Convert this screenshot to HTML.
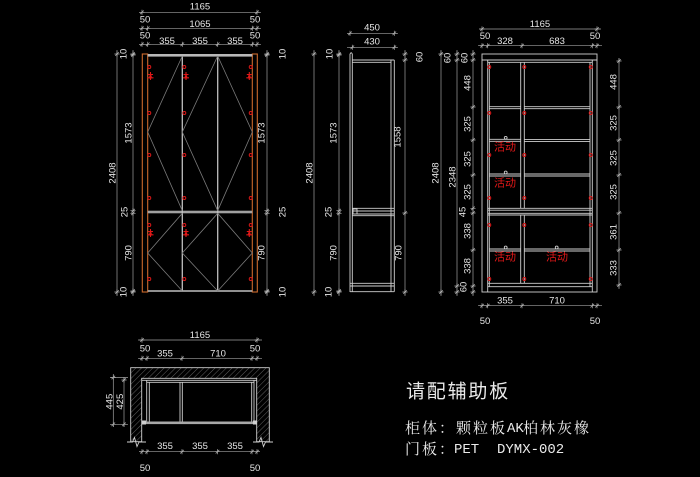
<!DOCTYPE html>
<html><head><meta charset="utf-8"><style>
html,body{margin:0;padding:0;background:#000;width:700px;height:477px;overflow:hidden}
svg{display:block}
.d{stroke:#a0a0a0;stroke-width:0.7;fill:none}
.s{stroke:#d0d0d0;stroke-width:0.9;fill:none}
.g{stroke:#7a7a7a;stroke-width:0.8;fill:none}
.o{stroke:#cc6a2c;stroke-width:1.1;fill:none}
.r{stroke:#e01818;stroke-width:0.9;fill:none}
.t{fill:#e6e6e6;font-family:"Liberation Sans",sans-serif;font-size:9.5px;text-anchor:middle;dominant-baseline:central}
.rt{fill:#e01818;font-family:"Liberation Sans","Noto Sans CJK SC",sans-serif;font-size:11px;text-anchor:middle;dominant-baseline:central}
</style></head><body>
<svg width="700" height="477" viewBox="0 0 700 477" xmlns="http://www.w3.org/2000/svg">
<defs>
<path id="tk" d="M-1.8,1.8 L1.8,-1.8 M-2.6,0 H2.6 M0,-2.6 V2.6" stroke="#b0b0b0" stroke-width="0.7" fill="none"/>
<g id="hg"><path d="M0,-4 V4 M-2.5,-1.5 H2.5 M-3,1.8 H3" stroke="#e01818" stroke-width="1.1" fill="none"/><rect x="-1.2" y="-0.5" width="2.4" height="3" fill="#e01818"/></g>
<pattern id="hat" width="4" height="4" patternUnits="userSpaceOnUse" patternTransform="rotate(45)"><line x1="0" y1="0" x2="0" y2="4" stroke="#8a8a8a" stroke-width="0.7"/></pattern>
</defs>
<rect width="700" height="477" fill="#000"/>

<!-- ============ LEFT ELEVATION ============ -->
<!-- top dims -->
<line class="d" x1="139" y1="12.3" x2="261" y2="12.3"/>
<use href="#tk" x="142" y="12.3"/><use href="#tk" x="257" y="12.3"/>
<text class="t" x="200" y="7">1165</text>
<line class="d" x1="139" y1="28.3" x2="261" y2="28.3"/>
<use href="#tk" x="142" y="28.3"/><use href="#tk" x="147.7" y="28.3"/><use href="#tk" x="252.3" y="28.3"/><use href="#tk" x="257" y="28.3"/>
<text class="t" x="145" y="20">50</text><text class="t" x="200" y="24.5">1065</text><text class="t" x="255" y="20">50</text>
<line class="d" x1="139" y1="44.3" x2="261" y2="44.3"/>
<use href="#tk" x="142" y="44.3"/><use href="#tk" x="147.7" y="44.3"/><use href="#tk" x="182.3" y="44.3"/><use href="#tk" x="217.7" y="44.3"/><use href="#tk" x="252.3" y="44.3"/><use href="#tk" x="257" y="44.3"/>
<text class="t" x="145" y="36">50</text><text class="t" x="167" y="41.5">355</text><text class="t" x="200" y="41.5">355</text><text class="t" x="235" y="41.5">355</text><text class="t" x="255" y="36">50</text>
<!-- left dims -->
<line class="d" x1="117" y1="50" x2="117" y2="296"/>
<use href="#tk" x="117" y="54"/><use href="#tk" x="117" y="292"/>
<line class="d" x1="133" y1="50" x2="133" y2="296"/>
<use href="#tk" x="133" y="54"/><use href="#tk" x="133" y="55"/><use href="#tk" x="133" y="210.7"/><use href="#tk" x="133" y="213.3"/><use href="#tk" x="133" y="291"/><use href="#tk" x="133" y="292"/>
<text class="t" transform="translate(113 173) rotate(-90)">2408</text>
<text class="t" transform="translate(124 54) rotate(-90)">10</text>
<text class="t" transform="translate(129 133) rotate(-90)">1573</text>
<text class="t" transform="translate(125 212) rotate(-90)">25</text>
<text class="t" transform="translate(129 253) rotate(-90)">790</text>
<text class="t" transform="translate(124 292) rotate(-90)">10</text>
<!-- right dims -->
<line class="d" x1="267" y1="50" x2="267" y2="296"/>
<use href="#tk" x="267" y="54"/><use href="#tk" x="267" y="55"/><use href="#tk" x="267" y="210.7"/><use href="#tk" x="267" y="213.3"/><use href="#tk" x="267" y="291"/><use href="#tk" x="267" y="292"/>
<text class="t" transform="translate(283 54) rotate(-90)">10</text>
<text class="t" transform="translate(262 133) rotate(-90)">1573</text>
<text class="t" transform="translate(283 212) rotate(-90)">25</text>
<text class="t" transform="translate(262 253) rotate(-90)">790</text>
<text class="t" transform="translate(283 292) rotate(-90)">10</text>
<!-- body -->
<rect class="o" x="142.3" y="54" width="5.4" height="238"/>
<rect class="o" x="252.3" y="54" width="5" height="238"/>
<rect x="147.7" y="54" width="104.6" height="2.6" fill="#b8b8b8"/>
<rect x="147.7" y="210.7" width="104.6" height="2.6" fill="#a0a0a0"/>
<line x1="147.7" y1="291" x2="252.3" y2="291" stroke="#c0c0c0" stroke-width="1.6"/>
<line x1="182.3" y1="56" x2="182.3" y2="291" stroke="#c0c0c0" stroke-width="1.3"/>
<line x1="217.7" y1="56" x2="217.7" y2="291" stroke="#c0c0c0" stroke-width="1.3"/>
<polyline class="g" points="182.3,56 147.7,132 182.3,210.7"/>
<polyline class="g" points="217.7,56 182.3,132 217.7,210.7"/>
<polyline class="g" points="217.7,56 252.3,132 217.7,210.7"/>
<polyline class="g" points="182.3,213.3 147.7,253 182.3,291"/>
<polyline class="g" points="217.7,213.3 182.3,253 217.7,291"/>
<polyline class="g" points="217.7,213.3 252.3,253 217.7,291"/>
<!-- red circles -->
<g class="r">
<circle cx="149.3" cy="67" r="1.5"/><circle cx="184.3" cy="67" r="1.5"/><circle cx="250.7" cy="67" r="1.5"/>
<circle cx="149.3" cy="113" r="1.5"/><circle cx="184.3" cy="113" r="1.5"/><circle cx="250.7" cy="113" r="1.5"/>
<circle cx="149.3" cy="155" r="1.5"/><circle cx="184.3" cy="155" r="1.5"/><circle cx="250.7" cy="155" r="1.5"/>
<circle cx="149.3" cy="198" r="1.5"/><circle cx="184.3" cy="198" r="1.5"/><circle cx="250.7" cy="198" r="1.5"/>
<circle cx="149.3" cy="225" r="1.5"/><circle cx="184.3" cy="225" r="1.5"/><circle cx="250.7" cy="225" r="1.5"/>
<circle cx="149.3" cy="279" r="1.5"/><circle cx="184.3" cy="279" r="1.5"/><circle cx="250.7" cy="279" r="1.5"/>
</g>
<use href="#hg" x="150.5" y="76"/><use href="#hg" x="186" y="76"/><use href="#hg" x="249.3" y="76"/>
<use href="#hg" x="150.5" y="233"/><use href="#hg" x="186" y="233"/><use href="#hg" x="249.3" y="233"/>

<!-- ============ SIDE VIEW ============ -->
<line class="d" x1="347" y1="33.3" x2="398" y2="33.3"/>
<use href="#tk" x="350" y="33.3"/><use href="#tk" x="394.3" y="33.3"/>
<text class="t" x="372" y="28">450</text>
<line class="d" x1="347" y1="47.3" x2="398" y2="47.3"/>
<use href="#tk" x="352.3" y="47.3"/><use href="#tk" x="394.3" y="47.3"/>
<text class="t" x="372" y="42">430</text>
<line class="d" x1="314" y1="50" x2="314" y2="296"/>
<use href="#tk" x="314" y="54"/><use href="#tk" x="314" y="292"/>
<line class="d" x1="339" y1="50" x2="339" y2="296"/>
<use href="#tk" x="339" y="54"/><use href="#tk" x="339" y="55"/><use href="#tk" x="339" y="210.7"/><use href="#tk" x="339" y="213.3"/><use href="#tk" x="339" y="291"/><use href="#tk" x="339" y="292"/>
<text class="t" transform="translate(310 173) rotate(-90)">2408</text>
<text class="t" transform="translate(330 54) rotate(-90)">10</text>
<text class="t" transform="translate(334 133) rotate(-90)">1573</text>
<text class="t" transform="translate(329 212) rotate(-90)">25</text>
<text class="t" transform="translate(334 253) rotate(-90)">790</text>
<text class="t" transform="translate(329 292) rotate(-90)">10</text>
<line class="d" x1="405" y1="50" x2="405" y2="296"/>
<use href="#tk" x="405" y="54"/><use href="#tk" x="405" y="60"/><use href="#tk" x="405" y="213"/><use href="#tk" x="405" y="292"/>
<text class="t" transform="translate(420 57) rotate(-90)">60</text>
<text class="t" transform="translate(398 137) rotate(-90)">1558</text>
<text class="t" transform="translate(399 253) rotate(-90)">790</text>
<g class="s">
<line x1="350" y1="54" x2="350" y2="292"/>
<line x1="352.3" y1="54" x2="352.3" y2="292"/>
<path d="M350,54 Q351.2,51.5 352.3,54"/>
<line x1="352.3" y1="60" x2="394.3" y2="60"/>
<line x1="352.3" y1="62.3" x2="391" y2="62.3"/>
<line x1="391" y1="60" x2="391" y2="291.7"/>
<line x1="394.3" y1="60" x2="394.3" y2="291.7"/>
<line x1="352.3" y1="208.3" x2="394.3" y2="208.3"/>
<line x1="352.3" y1="211" x2="394.3" y2="211"/>
<line x1="352.3" y1="214" x2="394.3" y2="214"/>
<line x1="352.3" y1="215.7" x2="394.3" y2="215.7"/>
<rect x="353" y="209" width="4" height="5"/>
<line x1="350" y1="283.3" x2="394.3" y2="283.3"/>
<line x1="350" y1="286" x2="394.3" y2="286"/>
<line x1="350" y1="291.7" x2="394.3" y2="291.7"/>
</g>

<!-- ============ RIGHT ELEVATION ============ -->
<line class="d" x1="479" y1="29" x2="601" y2="29"/>
<use href="#tk" x="482" y="29"/><use href="#tk" x="597" y="29"/>
<text class="t" x="540" y="24.5">1165</text>
<line class="d" x1="478" y1="45.7" x2="602" y2="45.7"/>
<use href="#tk" x="482" y="45.7"/><use href="#tk" x="487.7" y="45.7"/><use href="#tk" x="522" y="45.7"/><use href="#tk" x="592.3" y="45.7"/><use href="#tk" x="597" y="45.7"/>
<text class="t" x="485" y="36.5">50</text><text class="t" x="505" y="41.5">328</text><text class="t" x="557" y="41.5">683</text><text class="t" x="595" y="36.5">50</text>
<line class="d" x1="478" y1="305.7" x2="602" y2="305.7"/>
<use href="#tk" x="482" y="305.7"/><use href="#tk" x="487.7" y="305.7"/><use href="#tk" x="522" y="305.7"/><use href="#tk" x="592.3" y="305.7"/><use href="#tk" x="597" y="305.7"/>
<text class="t" x="505" y="301">355</text><text class="t" x="557" y="301">710</text>
<text class="t" x="485" y="321.7">50</text><text class="t" x="595" y="321.7">50</text>
<!-- left dims -->
<line class="d" x1="441" y1="50" x2="441" y2="296"/>
<use href="#tk" x="441" y="54"/><use href="#tk" x="441" y="292"/>
<line class="d" x1="457" y1="50" x2="457" y2="296"/>
<use href="#tk" x="457" y="54"/><use href="#tk" x="457" y="60"/><use href="#tk" x="457" y="286"/><use href="#tk" x="457" y="292"/>
<line class="d" x1="473" y1="50" x2="473" y2="296"/>
<use href="#tk" x="473" y="54"/><use href="#tk" x="473" y="60"/><use href="#tk" x="473" y="107"/><use href="#tk" x="473" y="140"/><use href="#tk" x="473" y="175"/><use href="#tk" x="473" y="208.3"/><use href="#tk" x="473" y="213"/><use href="#tk" x="473" y="250"/><use href="#tk" x="473" y="286"/><use href="#tk" x="473" y="292"/>
<text class="t" transform="translate(436 173) rotate(-90)">2408</text>
<text class="t" transform="translate(453 177) rotate(-90)">2348</text>
<text class="t" transform="translate(448 58) rotate(-90)">60</text>
<text class="t" transform="translate(465 58) rotate(-90)">60</text>
<text class="t" transform="translate(468 83) rotate(-90)">448</text>
<text class="t" transform="translate(468 124) rotate(-90)">325</text>
<text class="t" transform="translate(468 159) rotate(-90)">325</text>
<text class="t" transform="translate(468 192) rotate(-90)">325</text>
<text class="t" transform="translate(463 212) rotate(-90)">45</text>
<text class="t" transform="translate(468 231) rotate(-90)">338</text>
<text class="t" transform="translate(468 266) rotate(-90)">338</text>
<text class="t" transform="translate(464 287) rotate(-90)">60</text>
<!-- right dims -->
<line class="d" x1="619" y1="58" x2="619" y2="289"/>
<use href="#tk" x="619" y="61"/><use href="#tk" x="619" y="107"/><use href="#tk" x="619" y="140"/><use href="#tk" x="619" y="175"/><use href="#tk" x="619" y="213"/><use href="#tk" x="619" y="250"/><use href="#tk" x="619" y="285"/>
<text class="t" transform="translate(614 82) rotate(-90)">448</text>
<text class="t" transform="translate(614 123) rotate(-90)">325</text>
<text class="t" transform="translate(614 158) rotate(-90)">325</text>
<text class="t" transform="translate(614 192) rotate(-90)">325</text>
<text class="t" transform="translate(614 232) rotate(-90)">361</text>
<text class="t" transform="translate(614 268) rotate(-90)">333</text>
<!-- body -->
<g class="s">
<rect x="482" y="54" width="115" height="238"/>
<line x1="482" y1="60" x2="597" y2="60"/>
<line x1="487.7" y1="62.3" x2="592.3" y2="62.3"/>
<line x1="487.7" y1="60" x2="487.7" y2="292"/>
<line x1="489.3" y1="62.3" x2="489.3" y2="286.7"/>
<line x1="590" y1="62.3" x2="590" y2="286.7"/>
<line x1="592.3" y1="60" x2="592.3" y2="292"/>
<line x1="520.7" y1="62.3" x2="520.7" y2="208.3"/>
<line x1="524.3" y1="62.3" x2="524.3" y2="208.3"/>
<line x1="520.7" y1="215" x2="520.7" y2="283.3"/>
<line x1="524.3" y1="215" x2="524.3" y2="283.3"/>
<line x1="489.3" y1="106.7" x2="520.7" y2="106.7"/><line x1="489.3" y1="108.7" x2="520.7" y2="108.7"/>
<line x1="524.3" y1="106.7" x2="590" y2="106.7"/><line x1="524.3" y1="108.7" x2="590" y2="108.7"/>
<line x1="489.3" y1="139.3" x2="520.7" y2="139.3"/><line x1="489.3" y1="141.3" x2="520.7" y2="141.3"/>
<line x1="524.3" y1="139.6" x2="590" y2="139.6"/><line x1="524.3" y1="141.6" x2="590" y2="141.6"/>
<line x1="489.3" y1="174" x2="520.7" y2="174"/><line x1="489.3" y1="176" x2="520.7" y2="176"/>
<line x1="524.3" y1="174" x2="590" y2="174"/><line x1="524.3" y1="176" x2="590" y2="176"/>
<line x1="487.7" y1="208.3" x2="592.3" y2="208.3"/>
<line x1="487.7" y1="210.2" x2="592.3" y2="210.2"/>
<line x1="487.7" y1="213.3" x2="592.3" y2="213.3"/>
<line x1="487.7" y1="215" x2="592.3" y2="215"/>
<line x1="489.3" y1="249" x2="520.7" y2="249"/><line x1="489.3" y1="251" x2="520.7" y2="251"/>
<line x1="524.3" y1="249" x2="590" y2="249"/><line x1="524.3" y1="251" x2="590" y2="251"/>
<line x1="487.7" y1="283.3" x2="592.3" y2="283.3"/>
<line x1="487.7" y1="286.7" x2="592.3" y2="286.7"/>
<circle cx="505.7" cy="137.8" r="1.4"/><circle cx="505.7" cy="172.5" r="1.4"/>
<circle cx="505.7" cy="247.5" r="1.4"/><circle cx="556.7" cy="247.5" r="1.4"/>
</g>
<g class="r">
<circle cx="489.3" cy="67" r="1.5"/><circle cx="524.3" cy="67" r="1.5"/><circle cx="590.7" cy="67" r="1.5"/>
<circle cx="489.3" cy="113" r="1.5"/><circle cx="524.3" cy="113" r="1.5"/><circle cx="590.7" cy="113" r="1.5"/>
<circle cx="489.3" cy="155" r="1.5"/><circle cx="524.3" cy="155" r="1.5"/><circle cx="590.7" cy="155" r="1.5"/>
<circle cx="489.3" cy="198" r="1.5"/><circle cx="524.3" cy="198" r="1.5"/><circle cx="590.7" cy="198" r="1.5"/>
<circle cx="489.3" cy="225" r="1.5"/><circle cx="524.3" cy="225" r="1.5"/><circle cx="590.7" cy="225" r="1.5"/>
<circle cx="489.3" cy="279" r="1.5"/><circle cx="524.3" cy="279" r="1.5"/><circle cx="590.7" cy="279" r="1.5"/>
</g>
<text class="rt" x="505" y="147.3">活动</text>
<text class="rt" x="505" y="183.3">活动</text>
<text class="rt" x="505" y="257.3">活动</text>
<text class="rt" x="557" y="257.3">活动</text>

<!-- ============ PLAN ============ -->
<line class="d" x1="138" y1="340" x2="262" y2="340"/>
<use href="#tk" x="142" y="340"/><use href="#tk" x="257" y="340"/>
<text class="t" x="200" y="335.5">1165</text>
<line class="d" x1="138" y1="358.3" x2="262" y2="358.3"/>
<use href="#tk" x="142" y="358.3"/><use href="#tk" x="147" y="358.3"/><use href="#tk" x="182" y="358.3"/><use href="#tk" x="252" y="358.3"/><use href="#tk" x="257" y="358.3"/>
<text class="t" x="145" y="349">50</text><text class="t" x="165" y="354">355</text><text class="t" x="218" y="354">710</text><text class="t" x="255" y="349">50</text>
<line class="d" x1="113.3" y1="374" x2="113.3" y2="427"/>
<use href="#tk" x="113.3" y="377.5"/><use href="#tk" x="113.3" y="424.3"/>
<line class="d" x1="124" y1="377" x2="124" y2="427"/>
<use href="#tk" x="124" y="380"/><use href="#tk" x="124" y="424.3"/>
<line class="d" x1="110" y1="377.5" x2="128" y2="377.5"/>
<line class="d" x1="110" y1="424.3" x2="128" y2="424.3"/>
<text class="t" transform="translate(110 401.7) rotate(-90)">445</text>
<text class="t" transform="translate(120.5 401.7) rotate(-90)">425</text>
<!-- walls -->
<path d="M130.7,367.7 H269.3 V441.7 H256.7 V378.3 H141.7 V441.7 H130.7 Z" fill="url(#hat)" stroke="#cfcfcf" stroke-width="0.9"/>
<polyline class="s" points="127,442 132.5,442 134.5,437.5 137,446.5 139,442 146,442"/>
<polyline class="s" points="253,442 259,442 261,437.5 263.5,446.5 265.5,442 273,442"/>
<g class="s">
<line x1="141.7" y1="380.3" x2="256.7" y2="380.3"/>
<line x1="146.7" y1="382.3" x2="254" y2="382.3"/>
<line x1="146.7" y1="380.3" x2="146.7" y2="421.7"/>
<line x1="149.3" y1="382.3" x2="149.3" y2="421.7"/>
<line x1="251.7" y1="382.3" x2="251.7" y2="421.7"/>
<line x1="254" y1="380.3" x2="254" y2="421.7"/>
<line x1="180" y1="382.3" x2="180" y2="421.7"/>
<line x1="182.3" y1="382.3" x2="182.3" y2="421.7"/>
</g>
<rect x="143" y="421.5" width="113.7" height="2.6" fill="#a8a8a8"/>
<rect x="142" y="420.5" width="4" height="4" fill="#cfcfcf"/>
<rect x="253" y="420.5" width="4" height="4" fill="#cfcfcf"/>
<line class="d" x1="139" y1="451.7" x2="260" y2="451.7"/>
<use href="#tk" x="142" y="451.7"/><use href="#tk" x="147" y="451.7"/><use href="#tk" x="182" y="451.7"/><use href="#tk" x="217.5" y="451.7"/><use href="#tk" x="252" y="451.7"/><use href="#tk" x="257" y="451.7"/>
<text class="t" x="165" y="446.5">355</text><text class="t" x="200" y="446.5">355</text><text class="t" x="235" y="446.5">355</text>
<text class="t" x="145" y="468.3">50</text><text class="t" x="255" y="468.3">50</text>

<!-- ============ NOTES ============ -->
<text x="406" y="392" fill="#eaeaea" font-family="'Liberation Sans','Noto Sans CJK SC',sans-serif" font-size="19" letter-spacing="1.8" dominant-baseline="central">请配辅助板</text>
<text x="405" y="429" fill="#eaeaea" font-family="'Liberation Serif','Noto Serif CJK SC',serif" font-size="15" letter-spacing="2" dominant-baseline="central">柜体：颗粒板</text>
<text x="507" y="429" fill="#eaeaea" font-family="'Liberation Mono',monospace" font-size="14" dominant-baseline="central">AK</text>
<text x="523" y="429" fill="#eaeaea" font-family="'Liberation Serif','Noto Serif CJK SC',serif" font-size="15" letter-spacing="2" dominant-baseline="central">柏林灰橡</text>
<text x="405" y="450" fill="#eaeaea" font-family="'Liberation Serif','Noto Serif CJK SC',serif" font-size="15" letter-spacing="2" dominant-baseline="central">门板：</text>
<text x="454" y="450" fill="#eaeaea" font-family="'Liberation Mono',monospace" font-size="14" dominant-baseline="central">PET</text>
<text x="497" y="450" fill="#eaeaea" font-family="'Liberation Mono',monospace" font-size="14" dominant-baseline="central">DYMX-002</text>
</svg>
</body></html>
